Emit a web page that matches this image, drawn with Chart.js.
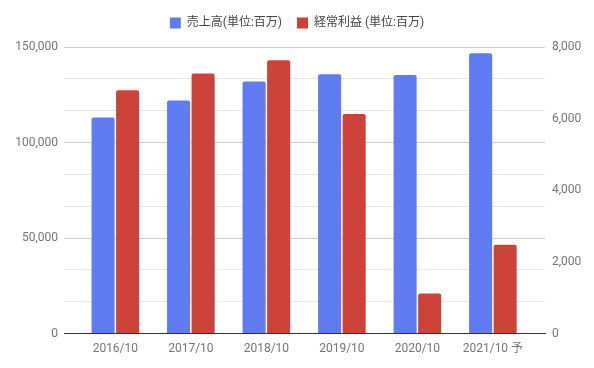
<!DOCTYPE html>
<html>
<head>
<meta charset="utf-8">
<script src="https://cdn.jsdelivr.net/npm/chart.js@4"></script>
<style>
  html, body { margin: 0; padding: 0; background: #fff; }
  #wrap { width: 594px; height: 368px; }
</style>
</head>
<body>
<div id="wrap"><canvas id="chart"></canvas></div>
<script>
// data
var categories = ['2016/10', '2017/10', '2018/10', '2019/10', '2020/10', '2021/10 予'];
var sales = [113100, 122000, 132000, 135800, 135300, 146700];      // 売上高 (left axis)
var ordinaryProfit = [6790, 7260, 7630, 6130, 1120, 2480];         // 経常利益 (right axis)
var leftTicks = [0, 50000, 100000, 150000];
var rightTicks = [0, 2000, 4000, 6000, 8000];

var FONT = "Roboto, 'Noto Sans CJK JP', sans-serif";

function points(arr) {
    return arr.map(function (v, i) { return { x: i, y: v }; });
}

// fixed legend height so the plot starts where the reference does
var legendHeight = {
    id: 'legendHeight',
    beforeInit: function (chart) {
        var fit = chart.legend.fit;
        chart.legend.fit = function () {
            fit.call(this);
            this.height = 45;
        };
    }
};

var ctx = document.getElementById('chart');
var chart = new Chart(ctx, {
    type: 'bar',
    plugins: [legendHeight],
    data: {
        datasets: [{
            label: '売上高(単位:百万)',
            data: points(sales),
            yAxisID: 'y',
            backgroundColor: '#607bf2',
            borderRadius: 2,
            borderSkipped: 'bottom'
        }, {
            label: '経常利益 (単位:百万)',
            data: points(ordinaryProfit),
            yAxisID: 'y1',
            backgroundColor: '#cd4339',
            borderRadius: 2,
            borderSkipped: 'bottom'
        }]
    },
    options: {
        responsive: true,
        maintainAspectRatio: false,
        animation: false,
        categoryPercentage: 0.65,
        barPercentage: 0.94,
        layout: { padding: { top: 2, bottom: 12 } },
        plugins: {
            tooltip: { enabled: false },
            legend: {
                position: 'top',
                labels: {
                    boxWidth: 11,
                    boxHeight: 11,
                    padding: 15,
                    color: '#444',
                    font: { family: FONT, size: 12 }
                }
            }
        },
        scales: {
            x: {
                type: 'linear',
                offset: false,
                min: -0.68,
                max: 5.69,
                grid: { display: false },
                border: { color: '#333', width: 1 },
                ticks: {
                    stepSize: 1,
                    includeBounds: false,
                    autoSkip: false,
                    maxRotation: 0,
                    padding: 0,
                    color: '#757575',
                    font: { family: FONT, size: 12 },
                    callback: function (v) {
                        return Number.isInteger(v) ? categories[v] : '';
                    }
                }
            },
            y: {
                position: 'left',
                min: 0,
                max: 150000,
                border: { display: false },
                grid: {
                    drawTicks: false,
                    color: function (c) {
                        var v = Math.round(c.tick.value);
                        if (v === 0) return 'rgba(0,0,0,0)';
                        return leftTicks.indexOf(v) >= 0 ? '#cccccc' : '#e6e6e6';
                    }
                },
                afterFit: function (s) { s.width = 64; },
                ticks: {
                    stepSize: 150000 / 9,
                    padding: 6,
                    color: '#757575',
                    font: { family: FONT, size: 12 },
                    callback: function (v) {
                        var r = Math.round(v);
                        return leftTicks.indexOf(r) >= 0 ? r.toLocaleString('en-US') : '';
                    }
                }
            },
            y1: {
                position: 'right',
                min: 0,
                max: 8000,
                border: { display: false },
                grid: { drawOnChartArea: false, drawTicks: false },
                afterFit: function (s) { s.width = 49; },
                ticks: {
                    stepSize: 2000,
                    padding: 7,
                    color: '#757575',
                    font: { family: FONT, size: 12 },
                    callback: function (v) { return v.toLocaleString('en-US'); }
                }
            }
        }
    }
});
</script>
</body>
</html>
